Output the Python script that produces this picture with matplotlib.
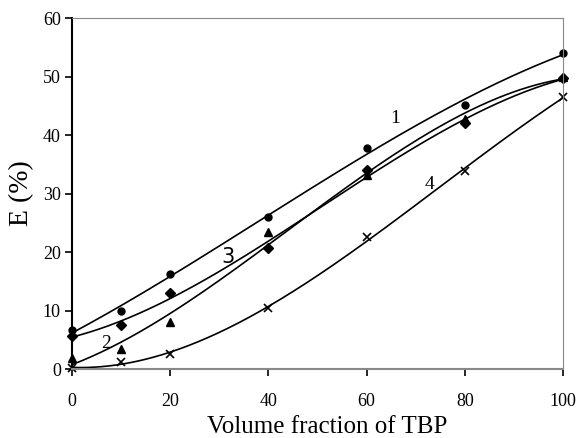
import numpy as np
import matplotlib
matplotlib.use("Agg")
from matplotlib import pyplot as plt

plt.rcParams['font.family'] = ['Liberation Serif', 'DejaVu Serif']

x = [0, 10, 20, 40, 60, 80, 100]
e1 = [6.6, 10.0, 16.2, 26.0, 37.7, 45.2, 54.0]
e2 = [1.8, 3.5, 8.1, 23.5, 33.2, 42.8, 50.0]
e3 = [5.6, 7.6, 13.0, 20.7, 34.0, 42.0, 49.7]
e4 = [0.2, 1.2, 2.5, 10.5, 22.5, 33.8, 46.5]

fig = plt.figure(figsize=(5.77, 4.38), dpi=100)
ax = fig.add_axes([0.1248, 0.1575, 0.851, 0.8014])

xs = np.linspace(0, 100, 200)
series = [(e1, 'o', 5), (e2, '^', 6), (e3, 'D', 5), (e4, 'x', 6)]
for ys, m, ms in series:
    p = np.polyfit(x, ys, 3)
    ax.plot(xs, np.polyval(p, xs), color='black', lw=1.2)
    if m == 'x':
        ax.plot(x, ys, m, color='black', ms=ms, mew=1.2, clip_on=False)
    else:
        ax.plot(x, ys, m, color='black', ms=ms, clip_on=False)

ax.text(64.8, 42, '1', fontsize=14)
ax.text(6.0, 3.6, '2', fontsize=14)
ax.text(30.5, 18.2, '3', fontsize=15, family='DejaVu Sans')
ax.text(71.8, 30.8, '4', fontsize=14)

ax.set_xlim(0, 100)
ax.set_ylim(0, 60)
ax.set_xticks([0, 20, 40, 60, 80, 100])
ax.set_yticks([0, 10, 20, 30, 40, 50, 60])
ax.tick_params(direction='out', labelsize=13, length=5, width=1.2, colors='black')
ax.tick_params(axis='x', pad=12)
ax.tick_params(axis='y', pad=3)
for s in ['top', 'right']:
    ax.spines[s].set_color('#888888')
for s in ['left', 'bottom']:
    ax.spines[s].set_linewidth(1.5)
ax.spines['bottom'].set_color('#888888')
ax.set_xlabel('Volume fraction of TBP', fontsize=18, va='top')
ax.xaxis.set_label_coords(0.52, -0.135)
ax.set_ylabel('E (%)', fontsize=20, labelpad=6)

fig.savefig('out.png', dpi=100)
